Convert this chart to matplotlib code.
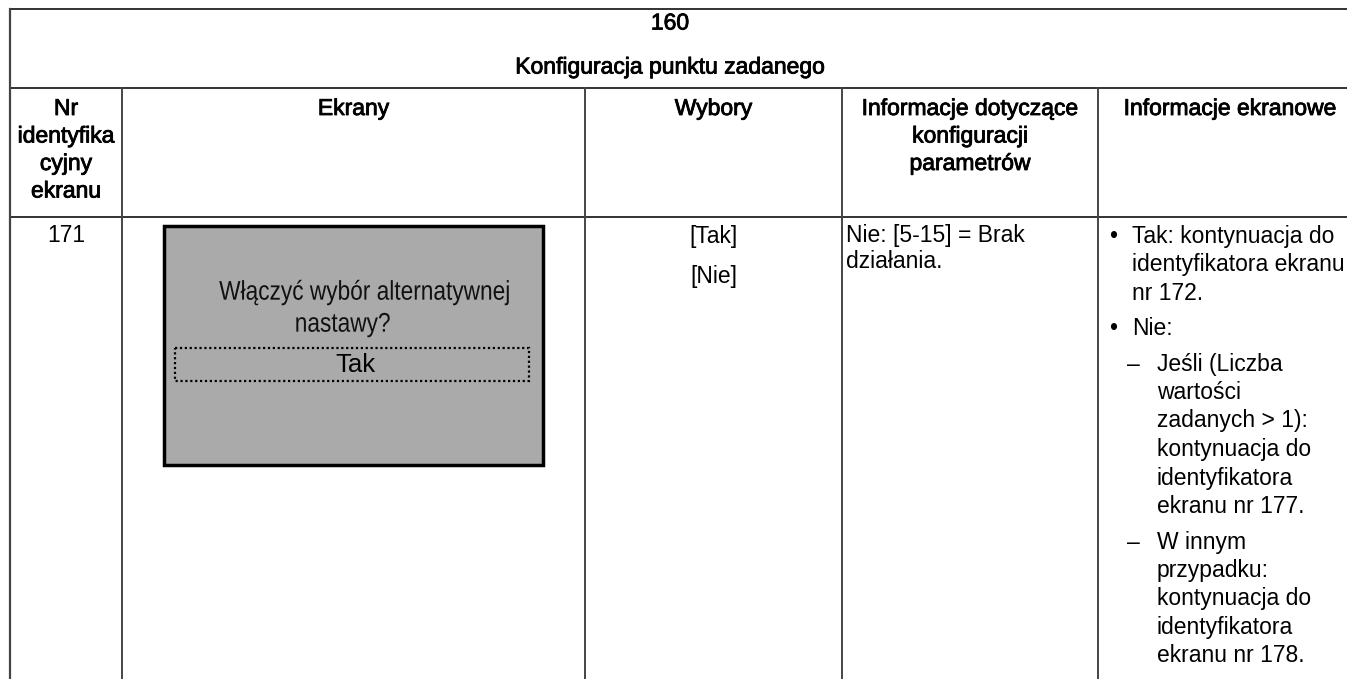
import matplotlib
matplotlib.use('Agg')
import matplotlib.pyplot as plt
import matplotlib.patheffects as pe
from matplotlib.textpath import TextPath
from matplotlib.patches import PathPatch
from matplotlib.font_manager import FontProperties
from matplotlib.transforms import Affine2D

# Table content
TITLE_NUMBER = '160'
TITLE_TEXT = 'Konfiguracja punktu zadanego'
HEADERS = ['Nr\nidentyfika\ncyjny\nekranu', 'Ekrany', 'Wybory',
           'Informacje dotyczące\nkonfiguracji\nparametrów', 'Informacje ekranowe']
SCREEN_ID = '171'
SCREEN_QUESTION = ['Włączyć wybór alternatywnej', 'nastawy?']
SCREEN_SELECTED = 'Tak'
CHOICES = ['[Tak]', '[Nie]']
PARAM_INFO = 'Nie: [5-15] = Brak\ndziałania.'
# (level, lines) -> level 0 bullet, level 1 dash
SCREEN_INFO = [
    (0, ['Tak: kontynuacja do', 'identyfikatora ekranu', 'nr 172.']),
    (0, ['Nie:']),
    (1, ['Jeśli (Liczba', 'wartości', 'zadanych > 1):', 'kontynuacja do',
         'identyfikatora', 'ekranu nr 177.']),
    (1, ['W innym', 'przypadku:', 'kontynuacja do', 'identyfikatora',
         'ekranu nr 178.']),
]

# column edges in pixels
COL_X = [10, 122, 585, 842, 1098, 1360]
TOP, HEAD_Y, ROW_Y = 9, 88, 217

plt.rcParams['font.family'] = ['Liberation Sans', 'DejaVu Sans']

fig = plt.figure(figsize=(13.47, 6.79), dpi=100)
ax = fig.add_axes([0, 0, 1, 1])
ax.set_xlim(0, 1347)
ax.set_ylim(679, 0)
ax.axis('off')

line_col = '#444444'
# outer / grid lines
for yy in (TOP, HEAD_Y, ROW_Y):
    ax.plot([COL_X[0], COL_X[-1]], [yy, yy], color='#222222', lw=1.3)
ax.plot([COL_X[0], COL_X[0]], [TOP, 700], color=line_col, lw=1.6)
for x in COL_X[1:-1]:
    ax.plot([x, x], [HEAD_Y, 700], color=line_col, lw=1.4)

bold = [pe.withStroke(linewidth=0.6, foreground='black')]
FS = 16.5

# title
ax.text(670, 23, TITLE_NUMBER, ha='center', va='center', fontsize=FS, path_effects=bold)
ax.text(670, 67, TITLE_TEXT, ha='center', va='center', fontsize=FS, path_effects=bold)

# headers
head_x = [(COL_X[0] + COL_X[1]) / 2, (COL_X[1] + COL_X[2]) / 2, (COL_X[2] + COL_X[3]) / 2,
          (COL_X[3] + COL_X[4]) / 2, 1230]
for hx, h in zip(head_x, HEADERS):
    ax.text(hx, 97, h, ha='center', va='top', fontsize=FS, linespacing=1.25,
            multialignment='center', path_effects=bold)

# screen id
ax.text(head_x[0], 236, SCREEN_ID, ha='center', va='center', fontsize=FS)

# screen mock
box = plt.Rectangle((164, 226), 543 - 164, 465 - 226, facecolor='#aaaaaa',
                    edgecolor='black', lw=2.5)
ax.add_patch(box)
sel = plt.Rectangle((175, 348), 529 - 175, 381 - 348, facecolor='none',
                    edgecolor='black', lw=1.6, linestyle=(0, (1, 1.2)))
ax.add_patch(sel)


def narrow_text(cx, cy, s, size_px, squeeze=0.84):
    """ Draws condensed text centred on (cx, cy) in pixel data coords. """
    tp = TextPath((0, 0), s, size=size_px, prop=FontProperties(family='Liberation Sans'))
    bb = tp.get_extents()
    w = bb.width * squeeze
    cap = size_px * 0.716
    tr = Affine2D().scale(squeeze, -1).translate(cx - w / 2 - bb.x0 * squeeze, cy + cap / 2)
    ax.add_patch(PathPatch(tr.transform_path(tp), facecolor='#111111', edgecolor='none'))


narrow_text(364, 290, SCREEN_QUESTION[0], 27)
narrow_text(343, 322, SCREEN_QUESTION[1], 27)
ax.text(355, 365, SCREEN_SELECTED, ha='center', va='center', fontsize=18.5)

# choices
for i, c in enumerate(CHOICES):
    ax.text(head_x[2], 237 + i * 40, c, ha='center', va='center', fontsize=FS)

# parameter info
ax.text(846, 224, PARAM_INFO, ha='left', va='top', fontsize=FS, linespacing=1.15)

# screen info list
y = 236
for k, (level, lines) in enumerate(SCREEN_INFO):
    if k > 0:
        y += 7
    mark_x = 1113 if level == 0 else 1133
    text_x = 1132 if level == 0 else 1157
    ax.text(mark_x, y, '•' if level == 0 else '–', ha='center', va='center', fontsize=FS)
    for ln in lines:
        ax.text(text_x, y, ln, ha='left', va='center', fontsize=FS)
        y += 28.5

fig.savefig('out.png', dpi=100)
